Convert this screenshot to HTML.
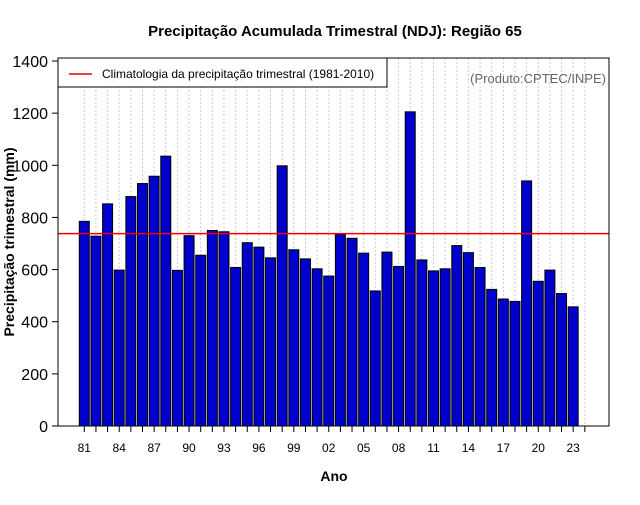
<!DOCTYPE html>
<html><head><meta charset="utf-8"><style>
body{margin:0;background:#fff;}
svg text{font-family:"Liberation Sans",sans-serif;}
</style></head><body>
<svg id="chart" width="640" height="500">
<text x="335" y="36" text-anchor="middle" font-size="15" font-weight="bold">Precipitação Acumulada Trimestral (NDJ): Região 65</text>
<g id="grid"></g>
<g id="bars"></g>
<g id="axes"></g>
<rect x="58" y="58" width="551" height="368" fill="none" stroke="#000"/>
<g>
<rect x="58" y="58" width="329" height="29" fill="#fff" stroke="#000"/>
<line x1="69" y1="74" x2="92" y2="74" stroke="#e00" stroke-width="1.5"/>
<text x="102" y="78" font-size="12">Climatologia da precipitação trimestral (1981-2010)</text>
</g>
<text x="606" y="83" text-anchor="end" font-size="13" fill="#666">(Produto:CPTEC/INPE)</text>
<text x="334" y="481" text-anchor="middle" font-size="14" font-weight="bold">Ano</text>
<text transform="translate(14,242) rotate(-90)" text-anchor="middle" font-size="14" font-weight="bold">Precipitação trimestral (mm)</text>
</svg>
<script>
const years = [];
for (let y = 1981; y <= 2023; y++) years.push(y);
const values = [785,728,852,598,880,930,958,1035,597,730,655,750,745,608,703,686,645,998,676,641,603,575,735,720,663,518,667,612,1205,637,595,603,692,665,608,524,487,478,940,555,598,508,457];
const climatology = 738;
const yTicks = [0,200,400,600,800,1000,1200,1400];
const xLabelYears = [1981,1984,1987,1990,1993,1996,1999,2002,2005,2008,2011,2014,2017,2020,2023];
const NS='http://www.w3.org/2000/svg';
const yS = v => 426 - v*(365/1400);
const xS = yr => 84.3 + (yr-1981)*11.64;
function mk(tag, attrs, parent){const e=document.createElementNS(NS,tag);for(const k in attrs)e.setAttribute(k,attrs[k]);parent.appendChild(e);return e;}
const grid=document.getElementById('grid'), bars=document.getElementById('bars'), axes=document.getElementById('axes');
for (let yr=1981; yr<=2024; yr++){
  const g=mk('line',{x1:xS(yr),x2:xS(yr),y1:58,y2:426,stroke:'#ccc','stroke-dasharray':'2,2'},grid);
  
  
  const t=mk('line',{x1:xS(yr),x2:xS(yr),y1:426,y2:432,stroke:'#000'},axes);
  
  
}
years.forEach((yr,i)=>{
  const r=mk('rect',{x:xS(yr)-5,y:yS(values[i]),width:10,height:426-yS(values[i]),fill:'#0000cc',stroke:'#000','stroke-width':1},bars);
  
  
});
const cl=mk('line',{x1:58,x2:609,y1:yS(climatology),y2:yS(climatology),stroke:'#e00','stroke-width':1.5},bars);


xLabelYears.forEach(yr=>{
  const t=mk('text',{x:xS(yr),y:452,'text-anchor':'middle','font-size':12},axes);
  t.textContent=String(yr%100).padStart(2,'0');
  
  
});
yTicks.forEach(v=>{
  const l=mk('line',{x1:52,x2:58,y1:yS(v),y2:yS(v),stroke:'#000'},axes);
  
  
  const t=mk('text',{x:48,y:yS(v)+6,'text-anchor':'end','font-size':16},axes);
  t.textContent=v;
  
  
});
</script>
</body></html>
